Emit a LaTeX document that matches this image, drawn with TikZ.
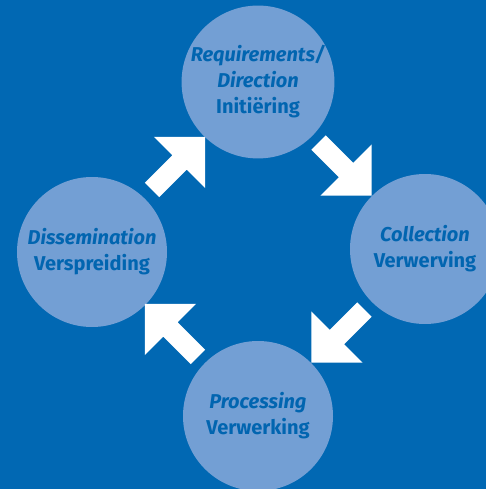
\documentclass[tikz,border=0pt]{standalone}
\usepackage{fontspec}
\setmainfont{Fira Sans}
\usetikzlibrary{shapes.arrows,calc}
\definecolor{bgblue}{RGB}{1,104,179}
\definecolor{discblue}{RGB}{115,159,212}
\definecolor{textblue}{RGB}{1,101,176}
\begin{document}
\begin{tikzpicture}[x=1pt,y=-1pt,
    phase/.style={circle,fill=discblue,minimum size=150pt,inner sep=0pt,
      align=center,text=textblue,font=\fontsize{20}{26}\selectfont\bfseries},
    blockarrow/.style={single arrow,fill=white,inner sep=10pt,
      single arrow head extend=26pt,single arrow tip angle=90,minimum height=75pt}]
    % Background
    \useasboundingbox (0,0) rectangle (486,489);
    \clip (0,0) rectangle (486,489);
    \fill[bgblue] (0,0) rectangle (486,489);

    % Phases of the cycle
    \node[phase] (req)  at (258,82)  {\textit{Requirements/}\\\textit{Direction}\\Initiëring};
    \node[phase] (coll) at (425,249) {\textit{Collection}\\Verwerving};
    \node[phase] (proc) at (258,416) {\textit{Processing}\\Verwerking};
    \node[phase] (diss) at (92,252)  {\textit{Dissemination}\\Verspreiding};

    % Arrows between the phases
    \node[blockarrow,rotate=-45]  (a1) at ($(req)!0.5!(coll)$)  {};
    \node[blockarrow,rotate=-135] (a2) at ($(coll)!0.5!(proc)$) {};
    \node[blockarrow,rotate=135]  (a3) at ($(proc)!0.5!(diss)$) {};
    \node[blockarrow,rotate=45]   (a4) at ($(diss)!0.5!(req)$)  {};
\end{tikzpicture}
\end{document}
